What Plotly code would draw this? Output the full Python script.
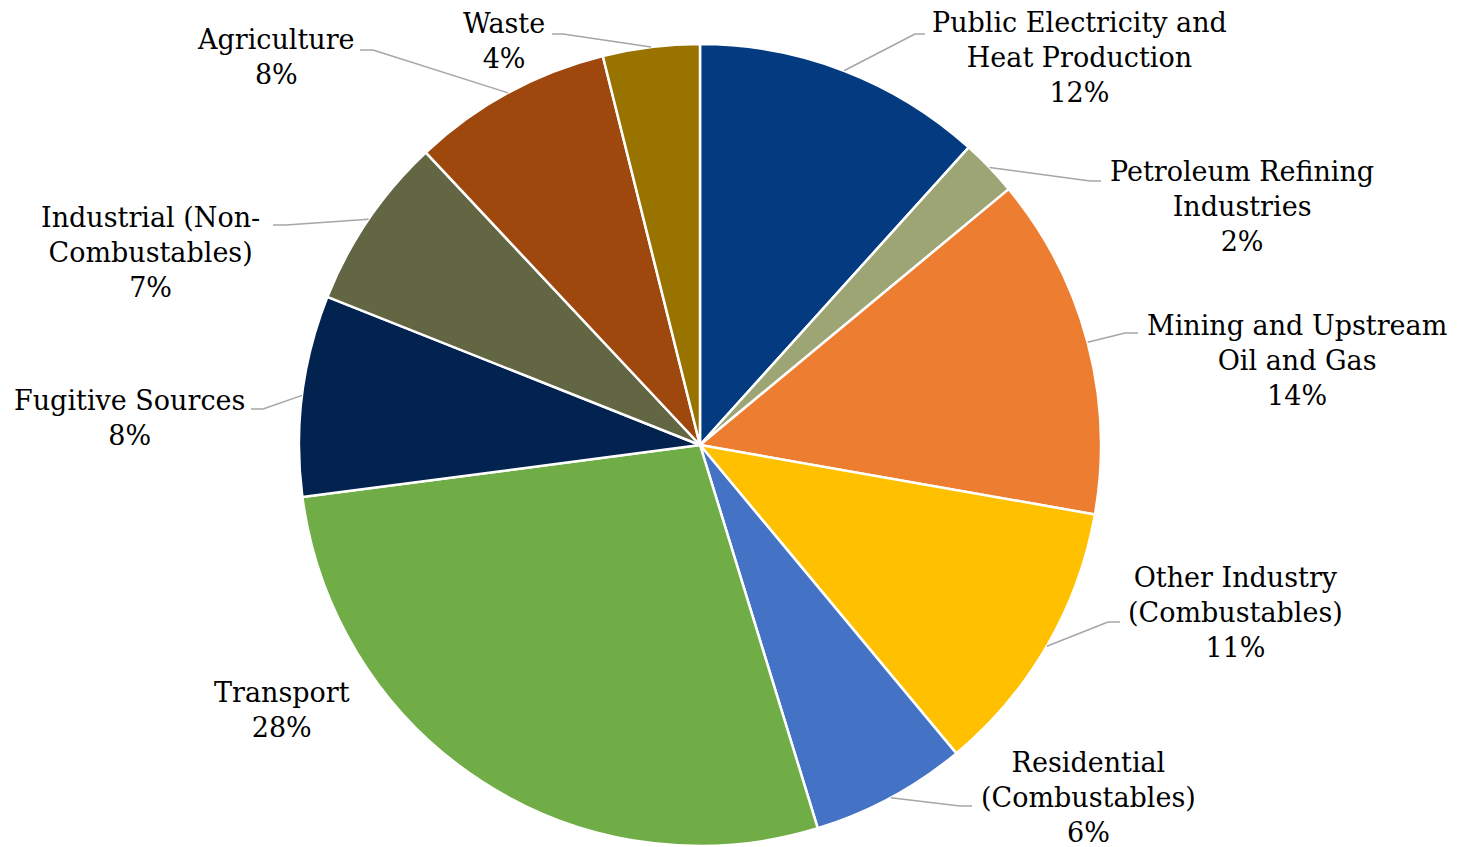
import math
import plotly.graph_objects as go

# ---- data ----
categories = [
    "Public Electricity and Heat Production",
    "Petroleum Refining Industries",
    "Mining and Upstream Oil and Gas",
    "Other Industry (Combustables)",
    "Residential (Combustables)",
    "Transport",
    "Fugitive Sources",
    "Industrial (Non-Combustables)",
    "Agriculture",
    "Waste",
]
shares = [11.7, 2.3, 13.8, 11.2, 6.3, 27.7, 8.1, 7.0, 8.1, 3.9]

# ---- styles ----
colors = ["#033A80", "#9EA574", "#ED7D31", "#FFC000", "#4472C4",
          "#70AD47", "#022350", "#626642", "#9E480E", "#997300"]
label_lines = [
    "Public Electricity and<br>Heat Production",
    "Petroleum Refining<br>Industries",
    "Mining and Upstream<br>Oil and Gas",
    "Other Industry<br>(Combustables)",
    "Residential<br>(Combustables)",
    "Transport",
    "Fugitive Sources",
    "Industrial (Non-<br>Combustables)",
    "Agriculture",
    "Waste",
]
# label centres in window pixels (layout)
label_pos = [(1079, 58), (1242, 206), (1297, 360), (1235, 612), (1088, 797),
             (282, 710), (130, 418), (150, 252), (276, 57), (504, 41)]
# leader elbow and end points in window pixels (None = no leader)
leader_pts = [
    [(915, 34), (925, 34)],
    [(1090, 181), (1101, 181)],
    [(1125, 333), (1138, 333)],
    [(1108, 622), (1120, 622)],
    [(960, 806), (972, 806)],
    None,
    [(263, 409), (251, 409)],
    [(286, 225), (273, 225)],
    [(373, 50), (360, 50)],
    [(563, 34), (552, 34)],
]

OFF = 8  # page body margin
W, H = 1463 - 2 * OFF + 8, 847 - OFF
CX, CY, R = 700, 445, 401
FONT = "DejaVu Serif"


def px(x):
    return (x - OFF) / W


def py(y):
    return 1 - (y - OFF) / H


fig = go.Figure(go.Pie(
    labels=categories,
    values=shares,
    sort=False,
    direction="clockwise",
    rotation=0,
    textinfo="none",
    hoverinfo="label+percent",
    marker=dict(colors=colors, line=dict(color="white", width=2.5)),
    domain=dict(x=[px(CX - R), px(CX + R)], y=[py(CY + R), py(CY - R)]),
    showlegend=False,
))

total = sum(shares)
cum = 0.0
shapes = []
annotations = []
for i, v in enumerate(shares):
    mid = (cum + v / 2) / total * 2 * math.pi
    cum += v
    sx = CX + R * math.sin(mid)
    sy = CY - R * math.cos(mid)
    pct = round(v / total * 100)
    lx, ly = label_pos[i]
    annotations.append(dict(
        x=px(lx), y=py(ly), xref="paper", yref="paper",
        text=f"{label_lines[i]}<br>{pct}%", showarrow=False,
        xanchor="center", yanchor="middle", align="center",
        font=dict(family=FONT, size=27, color="#000000"),
    ))
    if leader_pts[i] is not None:
        pts = [(sx, sy)] + leader_pts[i]
        for (x0, y0), (x1, y1) in zip(pts[:-1], pts[1:]):
            shapes.append(dict(
                type="line", xref="paper", yref="paper",
                x0=px(x0), y0=py(y0), x1=px(x1), y1=py(y1),
                line=dict(color="#A6A6A6", width=1.5),
            ))

fig.update_layout(
    width=W, height=H,
    margin=dict(l=0, r=0, t=0, b=0),
    paper_bgcolor="white",
    plot_bgcolor="white",
    shapes=shapes,
    annotations=annotations,
)

fig.write_html("out.html")
